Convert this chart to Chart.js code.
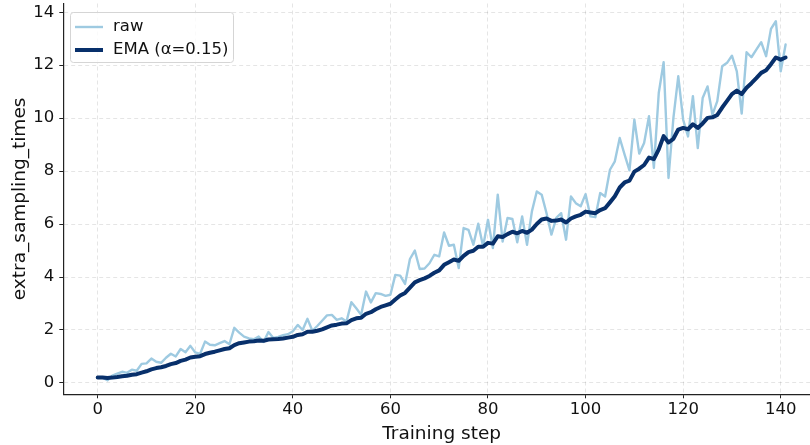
<!DOCTYPE html>
<html>
<head>
<meta charset="utf-8">
<script src="https://cdn.jsdelivr.net/npm/chart.js@4.4.1/dist/chart.umd.min.js"></script>
<style>
  html, body { margin: 0; padding: 0; overflow: hidden; background: #fff; }
  #wrap { width: 822px; height: 445px; }
</style>
</head>
<body>
<div id="wrap"><canvas id="chart1" width="822" height="445"></canvas></div>
<script>
// raw values per training step
var rawValues = [
  0.20, 0.20, 0.10, 0.28, 0.35, 0.42, 0.38, 0.50, 0.46, 0.72,
  0.74, 0.92, 0.80, 0.76, 0.95, 1.10, 1.00, 1.28, 1.16, 1.40,
  1.15, 1.10, 1.56, 1.44, 1.42, 1.50, 1.58, 1.46, 2.08, 1.90,
  1.75, 1.68, 1.65, 1.75, 1.55, 1.92, 1.70, 1.74, 1.80, 1.84,
  1.95, 2.19, 2.00, 2.42, 1.97, 2.15, 2.35, 2.55, 2.57, 2.38,
  2.44, 2.32, 3.05, 2.82, 2.57, 3.45, 3.04, 3.39, 3.36, 3.29,
  3.33, 4.08, 4.05, 3.74, 4.68, 5.00, 4.30, 4.32, 4.52, 4.84,
  4.78, 5.68, 5.18, 5.22, 4.34, 5.85, 5.78, 5.22, 6.01, 5.15,
  6.16, 5.09, 7.11, 5.34, 6.23, 6.19, 5.31, 6.29, 5.22, 6.48,
  7.23, 7.11, 6.41, 5.60, 6.23, 6.41, 5.41, 7.04, 6.79, 6.67,
  7.13, 6.29, 6.26, 7.17, 7.04, 8.05, 8.37, 9.25, 8.62, 8.03,
  9.94, 8.66, 9.06, 10.07, 8.12, 10.95, 12.11, 7.74, 10.00, 11.58,
  9.94, 9.31, 10.83, 8.87, 10.76, 11.20, 10.13, 10.64, 11.96, 12.09,
  12.36, 11.77, 10.17, 12.49, 12.30, 12.59, 12.87, 12.34, 13.37, 13.66,
  11.77, 12.78
];

// smoothed curve as drawn (EMA, alpha = 0.15)
var emaValues = [
  0.20, 0.20, 0.19, 0.20, 0.22, 0.25, 0.27, 0.31, 0.33, 0.39,
  0.44, 0.51, 0.56, 0.59, 0.64, 0.71, 0.75, 0.83, 0.88, 0.96,
  0.99, 1.01, 1.09, 1.14, 1.18, 1.23, 1.28, 1.31, 1.43, 1.50,
  1.53, 1.56, 1.57, 1.60, 1.59, 1.64, 1.65, 1.66, 1.68, 1.71,
  1.74, 1.81, 1.84, 1.93, 1.93, 1.97, 2.02, 2.10, 2.17, 2.20,
  2.24, 2.25, 2.37, 2.44, 2.46, 2.61, 2.67, 2.78, 2.87, 2.93,
  2.99, 3.15, 3.30, 3.40, 3.60, 3.80, 3.88, 3.95, 4.04, 4.16,
  4.25, 4.46, 4.56, 4.66, 4.61, 4.80, 4.94, 4.99, 5.14, 5.14,
  5.29, 5.26, 5.54, 5.51, 5.62, 5.71, 5.65, 5.74, 5.67, 5.79,
  6.00, 6.17, 6.21, 6.12, 6.13, 6.17, 6.06, 6.21, 6.29, 6.35,
  6.47, 6.44, 6.41, 6.53, 6.60, 6.82, 7.05, 7.38, 7.57, 7.64,
  7.98, 8.09, 8.23, 8.51, 8.45, 8.82, 9.32, 9.08, 9.22, 9.57,
  9.63, 9.58, 9.77, 9.63, 9.80, 10.01, 10.03, 10.12, 10.40, 10.65,
  10.91, 11.04, 10.91, 11.15, 11.32, 11.51, 11.71, 11.81, 12.04, 12.29,
  12.21, 12.29
];

var steps = rawValues.map(function(v, i) { return i; });
var xTicks = [0, 20, 40, 60, 80, 100, 120, 140];
var yTicks = [0, 2, 4, 6, 8, 10, 12, 14];

var rawColor = '#9ecae1';
var emaColor = '#08306b';
var fontFam = "'DejaVu Sans', sans-serif";

// matplotlib style legend box in the upper left
var legendBox = {
  id: 'legendBox',
  afterDraw: function(chart) {
    var ctx = chart.ctx;
    ctx.save();
    ctx.beginPath();
    ctx.roundRect(70.5, 12.5, 163, 50, 3);
    ctx.fillStyle = 'rgba(255,255,255,0.8)';
    ctx.fill();
    ctx.strokeStyle = '#d5d5d5';
    ctx.lineWidth = 1;
    ctx.stroke();

    ctx.lineCap = 'butt';
    ctx.strokeStyle = rawColor;
    ctx.lineWidth = 2.4;
    ctx.beginPath(); ctx.moveTo(75, 27); ctx.lineTo(103, 27); ctx.stroke();
    ctx.strokeStyle = emaColor;
    ctx.lineWidth = 4;
    ctx.beginPath(); ctx.moveTo(75, 50); ctx.lineTo(103, 50); ctx.stroke();

    ctx.fillStyle = '#111';
    ctx.font = '16.5px ' + fontFam;
    ctx.textBaseline = 'middle';
    ctx.textAlign = 'left';
    ctx.fillText('raw', 113, 27);
    ctx.fillText('EMA (\u03b1=0.15)', 113, 49.5);
    ctx.restore();
  }
};

var ctx = document.getElementById('chart1');
var chart = new Chart(ctx, {
  type: 'line',
  data: {
    labels: steps,
    datasets: [{
      label: 'raw',
      data: rawValues,
      borderColor: rawColor,
      borderWidth: 2.4,
      pointRadius: 0,
      tension: 0,
      borderJoinStyle: 'round',
      borderCapStyle: 'round',
      order: 2
    }, {
      label: 'EMA (\u03b1=0.15)',
      data: emaValues,
      borderColor: emaColor,
      borderWidth: 4,
      pointRadius: 0,
      tension: 0,
      borderJoinStyle: 'round',
      borderCapStyle: 'round',
      order: 1
    }]
  },
  options: {
    responsive: false,
    animation: false,
    devicePixelRatio: 1,
    layout: { autoPadding: false, padding: { top: 3.5, right: 2, left: 0, bottom: 0 } },
    plugins: { legend: { display: false }, tooltip: { enabled: false } },
    scales: {
      x: {
        type: 'linear',
        min: -7.05,
        max: 148.05,
        afterBuildTicks: function(s) { s.ticks = xTicks.map(function(v) { return { value: v }; }); },
        afterFit: function(s) { s.height = 50.7; s.paddingLeft = 0; s.paddingRight = 0; },
        ticks: {
          autoSkip: false, maxRotation: 0, padding: 2,
          color: '#111', font: { family: fontFam, size: 16.5 }
        },
        grid: {
          color: 'rgba(0,0,0,0.13)', lineWidth: 0.8,
          tickColor: '#222', tickLength: 4, tickWidth: 1, tickBorderDash: []
        },
        border: { color: '#222', width: 1.2, dash: [4, 3] },
        title: {
          display: true, text: 'Training step', color: '#111',
          font: { family: fontFam, size: 18.5 }, padding: { top: 0, bottom: 0 }
        }
      },
      y: {
        min: -0.43,
        max: 14.33,
        afterBuildTicks: function(s) { s.ticks = yTicks.map(function(v) { return { value: v }; }); },
        afterFit: function(s) { s.width = 63.3; s.paddingTop = 0; s.paddingBottom = 0; },
        ticks: {
          padding: 5, color: '#111', font: { family: fontFam, size: 16.5 }
        },
        grid: {
          color: 'rgba(0,0,0,0.13)', lineWidth: 0.8,
          tickColor: '#222', tickLength: 4, tickWidth: 1, tickBorderDash: []
        },
        border: { color: '#222', width: 1.2, dash: [4, 3] },
        title: {
          display: true, text: 'extra_sampling_times', color: '#111',
          font: { family: fontFam, size: 18.5 }, padding: { top: 9, bottom: 0 }
        }
      }
    }
  },
  plugins: [legendBox]
});
</script>
</body>
</html>
